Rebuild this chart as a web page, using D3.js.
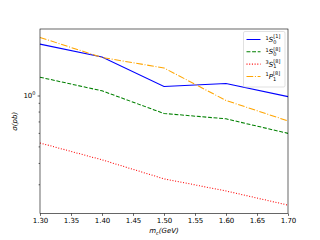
<!DOCTYPE html>
<html>
<head>
<meta charset="utf-8">
<script src="https://cdn.jsdelivr.net/npm/d3@7"></script>
<style>
  body { margin: 0; background: #fff; }
  svg { display: block; font-family: "DejaVu Sans", sans-serif; }
</style>
</head>
<body>
<svg id="chart" width="320" height="240"></svg>
<script>
// charm mass values on the x axis
const mc = [1.3, 1.4, 1.5, 1.6, 1.7];

// cross sections (pb)
const s0Singlet = [2.0, 1.68, 1.13, 1.175, 0.985];
const s0Octet = [1.28, 1.065, 0.785, 0.73, 0.6];
const s1Octet = [0.527, 0.42, 0.325, 0.276, 0.228];
const p1Octet = [2.19, 1.67, 1.45, 0.935, 0.71];

const xTicks = [1.3, 1.35, 1.4, 1.45, 1.5, 1.55, 1.6, 1.65, 1.7];
const yMinorTicks = [0.3, 0.4, 0.5, 0.6, 0.7, 0.8, 0.9];

const series = [
  { pre: "1", sub: "0", sup: "[1]", values: s0Singlet, color: "#0000ff", dash: null },
  { pre: "1", sub: "0", sup: "[8]", values: s0Octet, color: "#008000", dash: "3.9,1.7" },
  { pre: "3", sub: "1", sup: "[8]", values: s1Octet, color: "#ff0000", dash: "1,1.7" },
  { pre: "1", sub: "1", sup: "[8]", letter: "P", values: p1Octet, color: "#ffa500", dash: "6.7,1.7,1,1.7" }
];

const mLeft = 40, mRight = 288, mTop = 29, mBottom = 213.5;

const svg = d3.select("#chart");

// log y range padded by 5% like matplotlib
const all = [].concat(s0Singlet, s0Octet, s1Octet, p1Octet);
const lo = Math.log10(d3.min(all)), hi = Math.log10(d3.max(all));
const pad = (hi - lo) * 0.05;

const x = d3.scaleLinear().domain([1.3, 1.7]).range([mLeft, mRight]);
const y = d3.scaleLog().domain([Math.pow(10, lo - pad), Math.pow(10, hi + pad)]).range([mBottom, mTop]);

const line = d3.line()
  .x((d, i) => x(mc[i]))
  .y((d) => y(d));

// data lines
series.forEach((s) => {
  svg.append("path")
    .attr("d", line(s.values))
    .attr("fill", "none")
    .attr("stroke", s.color)
    .attr("stroke-width", 1.05)
    .attr("stroke-dasharray", s.dash);
});

// x axis
const xAxis = svg.append("g")
  .attr("transform", `translate(0,${mBottom})`)
  .call(d3.axisBottom(x).tickValues(xTicks).tickFormat(d3.format(".2f")).tickSize(2.4).tickPadding(2.4));
xAxis.select(".domain").remove();

// y axis: one major tick at 10^0 plus minor ticks
const yAxis = svg.append("g").attr("transform", `translate(${mLeft},0)`);
yAxis.call(d3.axisLeft(y).tickValues([1]).tickFormat(() => "").tickSize(2.4));
yAxis.select(".domain").remove();
yAxis.selectAll(".minor")
  .data(yMinorTicks)
  .join("line")
  .attr("x1", -1.4).attr("x2", 0)
  .attr("y1", (d) => y(d)).attr("y2", (d) => y(d))
  .attr("stroke", "#000").attr("stroke-width", 0.6);

svg.selectAll(".tick line").attr("stroke-width", 0.6);
svg.selectAll(".tick text").attr("font-size", 7).attr("font-family", "DejaVu Sans").attr("fill", "#000");

const tenLabel = svg.append("text")
  .attr("x", mLeft - 4.5).attr("y", y(1) + 2.5)
  .attr("text-anchor", "end").attr("font-size", 7);
tenLabel.append("tspan").text("10");
tenLabel.append("tspan").attr("font-size", 5).attr("dy", -3).text("0");

// frame
svg.append("rect")
  .attr("x", mLeft).attr("y", mTop)
  .attr("width", mRight - mLeft).attr("height", mBottom - mTop)
  .attr("fill", "none").attr("stroke", "#000").attr("stroke-width", 0.6);

// axis labels
const xl = svg.append("text")
  .attr("x", (mLeft + mRight) / 2).attr("y", 233)
  .attr("text-anchor", "middle").attr("font-size", 7).attr("font-style", "italic");
xl.append("tspan").text("m");
xl.append("tspan").attr("font-size", 5).attr("dy", 1.5).text("c");
xl.append("tspan").attr("dy", -1.5).text("(GeV)");

svg.append("text")
  .attr("transform", `translate(17,${(mTop + mBottom) / 2}) rotate(-90)`)
  .attr("text-anchor", "middle").attr("font-size", 7).attr("font-style", "italic")
  .text("σ(pb)");

// legend
const lg = svg.append("g").attr("transform", "translate(243.5,31.5)");
lg.append("rect")
  .attr("width", 41.5).attr("height", 55.5).attr("rx", 1.5)
  .attr("fill", "#fff").attr("fill-opacity", 0.8)
  .attr("stroke", "#ccc").attr("stroke-width", 0.6);

series.forEach((s, i) => {
  const cy = 8 + i * 12.3;
  lg.append("line")
    .attr("x1", 3).attr("x2", 17).attr("y1", cy).attr("y2", cy)
    .attr("stroke", s.color).attr("stroke-width", 1.05)
    .attr("stroke-dasharray", s.dash);
  const t = lg.append("text").attr("x", 22).attr("y", cy + 2.5).attr("font-size", 7);
  t.append("tspan").attr("font-size", 5).attr("dy", -2.5).text(s.pre);
  t.append("tspan").attr("font-style", "italic").attr("font-size", 7).attr("dy", 2.5).text(s.letter || "S");
  t.append("tspan").attr("font-size", 5).attr("dy", 1.8).text(s.sub);
  t.append("tspan").attr("font-size", 5).attr("dx", -3).attr("dy", -5.5).text(s.sup);
});
</script>
</body>
</html>
